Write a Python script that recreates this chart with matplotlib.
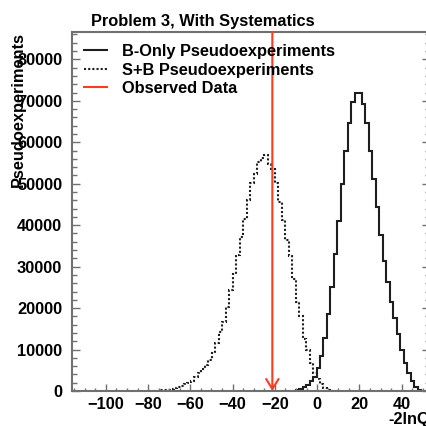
import numpy as np
import matplotlib.pyplot as plt
from matplotlib.lines import Line2D
from matplotlib.ticker import MultipleLocator

plt.rcParams['font.family'] = ['Liberation Sans', 'DejaVu Sans']
plt.rcParams['font.weight'] = 'bold'
plt.rcParams['axes.labelweight'] = 'bold'
plt.rcParams['font.size'] = 11.8

title = "Problem 3, With Systematics"
x_label = "-2lnQ"
y_label = "Pseudoexperiments"
legend_labels = ["B-Only Pseudoexperiments", "S+B Pseudoexperiments", "Observed Data"]

# histogram binning
bin_width = 1.65
b_lo = -10.2
sb_lo = -79.5

# B-only pseudoexperiments, counts per bin
b_counts = [150, 500, 1000, 1500, 2300, 3400, 5500, 8500, 12700, 18500,
            25000, 33000, 41000, 50000, 58000, 64700, 69700, 72000, 71800, 69200,
            64700, 58000, 51100, 44300, 37600, 31400, 26400, 21500, 17700, 13700,
            10000, 6800, 4300, 2500, 1000, 250]

# S+B pseudoexperiments, counts per bin
sb_counts = [50, 60, 90, 130, 200, 350, 550, 800, 1050, 1250,
             1650, 2050, 2500, 3300, 4300, 5300, 6200, 7500, 9100, 11500,
             14300, 16700, 20300, 24300, 28300, 32800, 37200, 41600, 46100, 50100,
             52400, 55300, 56100, 56900, 54800, 53600, 50100, 45600, 41200, 36500,
             32500, 27000, 21500, 18000, 12500, 9900, 6800, 4300, 2900, 1600,
             800, 350, 120, 50]

observed = -21.2

b_edges = b_lo + bin_width * np.arange(len(b_counts) + 1)
sb_edges = sb_lo + bin_width * np.arange(len(sb_counts) + 1)

W, H = 427, 426
fig = plt.figure(figsize=(W / 100, H / 100), dpi=100)
# axes runs a little past the right border, as in the original
ax = fig.add_axes([72 / W, 35 / H, 358 / W, 359 / H])

line_col = '#1e1e1e'
red = '#ff3a1e'

ax.stairs(b_counts, b_edges, color=line_col, lw=1.5)
ax.stairs(sb_counts, sb_edges, color=line_col, lw=1.5, linestyle=(0, (1, 1)))

ymax = 86600
ax.annotate('', xy=(observed, 0), xytext=(observed, ymax),
            arrowprops=dict(arrowstyle='->,head_length=0.45,head_width=0.28',
                            color=red, lw=1.5, mutation_scale=16,
                            shrinkA=0, shrinkB=0))

ax.set_xlim(-116, 53.4)
ax.set_ylim(0, ymax)

ax.xaxis.set_major_locator(MultipleLocator(20))
ax.xaxis.set_minor_locator(MultipleLocator(5))
ax.yaxis.set_major_locator(MultipleLocator(10000))
ax.yaxis.set_minor_locator(MultipleLocator(2000))

spine_col = '#707070'
for s in ax.spines.values():
    s.set_color(spine_col)
    s.set_linewidth(1.5)

ax.tick_params(axis='both', which='both', direction='in', color=spine_col)
ax.tick_params(axis='y', which='both', right=True)
ax.tick_params(axis='y', which='major', length=6, width=1, pad=7)
ax.tick_params(axis='y', which='minor', length=3.3, width=1)
ax.tick_params(axis='x', which='major', length=5, width=1, pad=4.5)
ax.tick_params(axis='x', which='minor', length=2.5, width=1)

# axis titles, ROOT style: at the far end of each axis
ax.set_xlabel(x_label, ha='right')
ax.xaxis.set_label_coords(1.0, -0.058)
ax.set_ylabel(y_label)
ax.yaxis.label.set(ha='right', va='top', rotation_mode='default')
ax.yaxis.set_label_coords(-0.13, 1.0)

fig.text(90.7 / W, 1 - 25.7 / H, title, ha='left', va='baseline')

handles = [Line2D([], [], color=line_col, lw=1.5),
           Line2D([], [], color=line_col, lw=1.5, linestyle=(0, (1, 1))),
           Line2D([], [], color=red, lw=1.5)]
ax.legend(handles, legend_labels, loc='upper left',
          bbox_to_anchor=(84 / W, 1 - 44 / H), bbox_transform=fig.transFigure,
          frameon=False, handlelength=1.4, handletextpad=0.9,
          labelspacing=0.22, borderpad=0, borderaxespad=0)

fig.savefig('out.png', dpi=100)
